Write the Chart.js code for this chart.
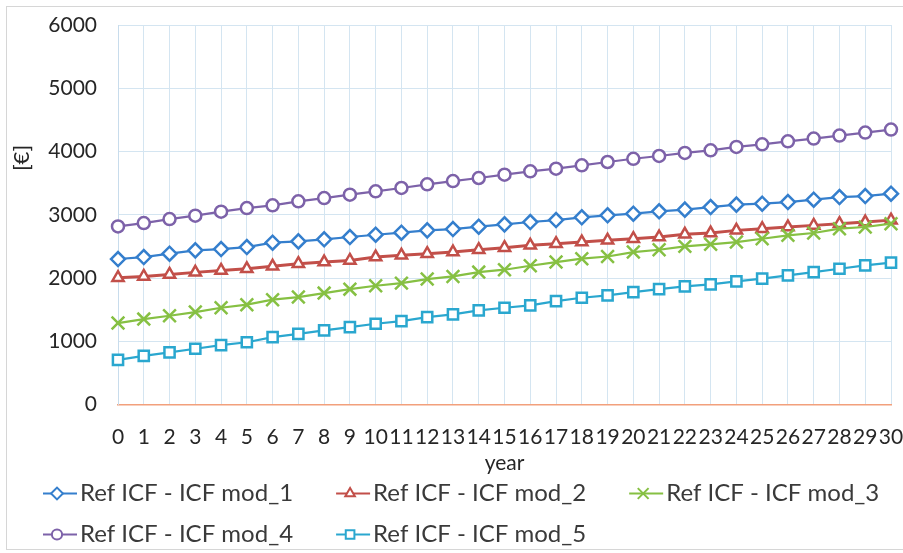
<!DOCTYPE html>
<html lang="en">
<head>
    <meta charset="UTF-8">
    <title>Ref ICF - ICF mod</title>
    <style>
        body { margin: 0; background: #fff; overflow: hidden; }
        .wrap { width: 903px; height: 553px; overflow: hidden; }
    </style>
    <script src="https://cdn.jsdelivr.net/npm/chart.js"></script>
</head>
<body>
    <div class="wrap">
        <canvas id="chart" width="903" height="562"></canvas>
    </div>
    <script>
        // years 0..30
        const years = ['0', '1', '2', '3', '4', '5', '6', '7', '8', '9', '10', '11', '12', '13', '14', '15',
                       '16', '17', '18', '19', '20', '21', '22', '23', '24', '25', '26', '27', '28', '29', '30'];
        const yTicks = [0, 1000, 2000, 3000, 4000, 5000, 6000];

        const mod1 = [2300, 2331, 2384, 2437, 2458, 2489, 2559, 2579, 2611, 2648, 2684, 2716, 2753, 2774, 2811, 2848,
                      2885, 2916, 2959, 2991, 3017, 3054, 3081, 3122, 3160, 3175, 3201, 3238, 3280, 3296, 3333];
        const mod2 = [2004, 2025, 2057, 2089, 2120, 2146, 2184, 2226, 2252, 2278, 2331, 2358, 2384, 2410, 2447, 2479,
                      2516, 2542, 2568, 2595, 2621, 2648, 2690, 2711, 2753, 2780, 2806, 2832, 2859, 2885, 2915];
        const mod3 = [1287, 1350, 1403, 1461, 1530, 1578, 1657, 1698, 1761, 1824, 1877, 1919, 1983, 2025, 2093, 2131,
                      2194, 2252, 2305, 2340, 2410, 2447, 2500, 2532, 2568, 2621, 2674, 2711, 2780, 2806, 2859];
        const mod4 = [2816, 2868, 2932, 2985, 3049, 3106, 3149, 3212, 3264, 3318, 3370, 3423, 3481, 3533, 3581, 3634,
                      3687, 3729, 3782, 3834, 3885, 3929, 3977, 4019, 4072, 4114, 4161, 4204, 4251, 4299, 4346];
        const mod5 = [706, 770, 825, 881, 940, 984, 1065, 1118, 1171, 1223, 1277, 1318, 1382, 1424, 1487, 1530,
                      1566, 1635, 1688, 1725, 1777, 1824, 1867, 1899, 1946, 1989, 2041, 2093, 2146, 2199, 2242];

        const seriesNames = ['Ref ICF - ICF mod_1', 'Ref ICF - ICF mod_2', 'Ref ICF - ICF mod_3',
                             'Ref ICF - ICF mod_4', 'Ref ICF - ICF mod_5'];
        const seriesData = [mod1, mod2, mod3, mod4, mod5];
        const colors = ['#357fcd', '#c24f49', '#86c043', '#7d62a9', '#2aa7cf'];
        const markers = ['rectRot', 'triangle', 'crossRot', 'circle', 'rect'];
        const radii = [7, 6.5, 9, 6, 7.2];

        const FONT = 'Lato';
        const txt = '#262626';
        const LEG_BOX = 62;

        const datasets = seriesData.map((d, i) => ({
            label: seriesNames[i],
            data: d,
            borderColor: colors[i],
            backgroundColor: '#ffffff',
            borderWidth: i === 1 ? 3 : 2.2,
            pointStyle: markers[i],
            pointRadius: radii[i],
            pointBorderWidth: 2.5,
            pointBackgroundColor: '#ffffff',
            pointBorderColor: colors[i],
            tension: 0,
            order: 5 - i
        }));

        // frame, y title and legend line+marker symbols
        const decor = {
            id: 'decor',
            beforeDraw(chart) {
                const ctx = chart.ctx;
                ctx.save();
                ctx.fillStyle = '#fff';
                ctx.fillRect(0, 0, chart.width, chart.height);
                ctx.strokeStyle = '#d6d6d6';
                ctx.lineWidth = 1;
                ctx.strokeRect(6.5, 6.5, 903, 543);
                ctx.restore();
            },
            afterDraw(chart) {
                const ctx = chart.ctx;
                ctx.save();
                ctx.translate(22, 158);
                ctx.rotate(-Math.PI / 2);
                ctx.font = '22px ' + FONT;
                ctx.fillStyle = txt;
                ctx.textAlign = 'center';
                ctx.textBaseline = 'middle';
                ctx.fillText('[€]', 0, 0);
                ctx.restore();

                chart.legend.legendHitBoxes.forEach((hb, i) => {
                    const cy = hb.top + hb.height / 2;
                    const end = hb.left + LEG_BOX + 9;
                    const start = end - 34;
                    ctx.save();
                    ctx.strokeStyle = colors[i];
                    ctx.lineWidth = 2;
                    ctx.beginPath();
                    ctx.moveTo(start, cy);
                    ctx.lineTo(end, cy);
                    ctx.stroke();
                    ctx.fillStyle = '#fff';
                    Chart.helpers.drawPoint(ctx, {pointStyle: markers[i], radius: radii[i] * 0.85, borderWidth: 2, rotation: 0}, start + 14, cy);
                    ctx.restore();
                });
            }
        };

        new Chart(document.getElementById('chart'), {
            type: 'line',
            data: { labels: years, datasets: datasets },
            plugins: [decor],
            options: {
                responsive: false,
                animation: false,
                layout: { padding: { left: 0, right: 0, top: 25, bottom: 0 } },
                plugins: {
                    tooltip: { enabled: false },
                    legend: {
                        position: 'bottom',
                        align: 'start',
                        labels: {
                            font: { family: FONT, size: 24 },
                            color: '#3a3a3a',
                            boxWidth: LEG_BOX,
                            boxHeight: 35,
                            padding: 6,
                            generateLabels: chart => chart.data.datasets.map((ds, i) => ({
                                text: ds.label,
                                fillStyle: 'rgba(0,0,0,0)',
                                strokeStyle: 'rgba(0,0,0,0)',
                                lineWidth: 0,
                                fontColor: '#3a3a3a',
                                datasetIndex: i,
                                hidden: false
                            }))
                        }
                    }
                },
                scales: {
                    x: {
                        afterFit: s => { s.height = 65.5; s.paddingLeft = 0; s.paddingRight = 12; },
                        grid: { color: '#d4e5f1', drawTicks: false },
                        border: { color: '#f2a07c', width: 1.5 },
                        ticks: { autoSkip: false, maxRotation: 0, padding: 20, color: txt, font: { family: FONT, size: 21 } },
                        title: { display: true, text: 'year', color: txt, font: { family: FONT, size: 21 }, padding: { top: 0, bottom: -6 } }
                    },
                    y: {
                        min: 0,
                        max: 6000,
                        afterFit: s => { s.width = 118; s.paddingTop = 0; s.paddingBottom = 0; },
                        afterBuildTicks: s => { s.ticks = yTicks.map(v => ({ value: v })); },
                        grid: { color: '#d4e5f1', drawTicks: false },
                        border: { color: '#c8dcec' },
                        ticks: { padding: 21, color: txt, font: { family: FONT, size: 21 }, callback: v => String(v) }
                    }
                }
            }
        });
    </script>
</body>
</html>
